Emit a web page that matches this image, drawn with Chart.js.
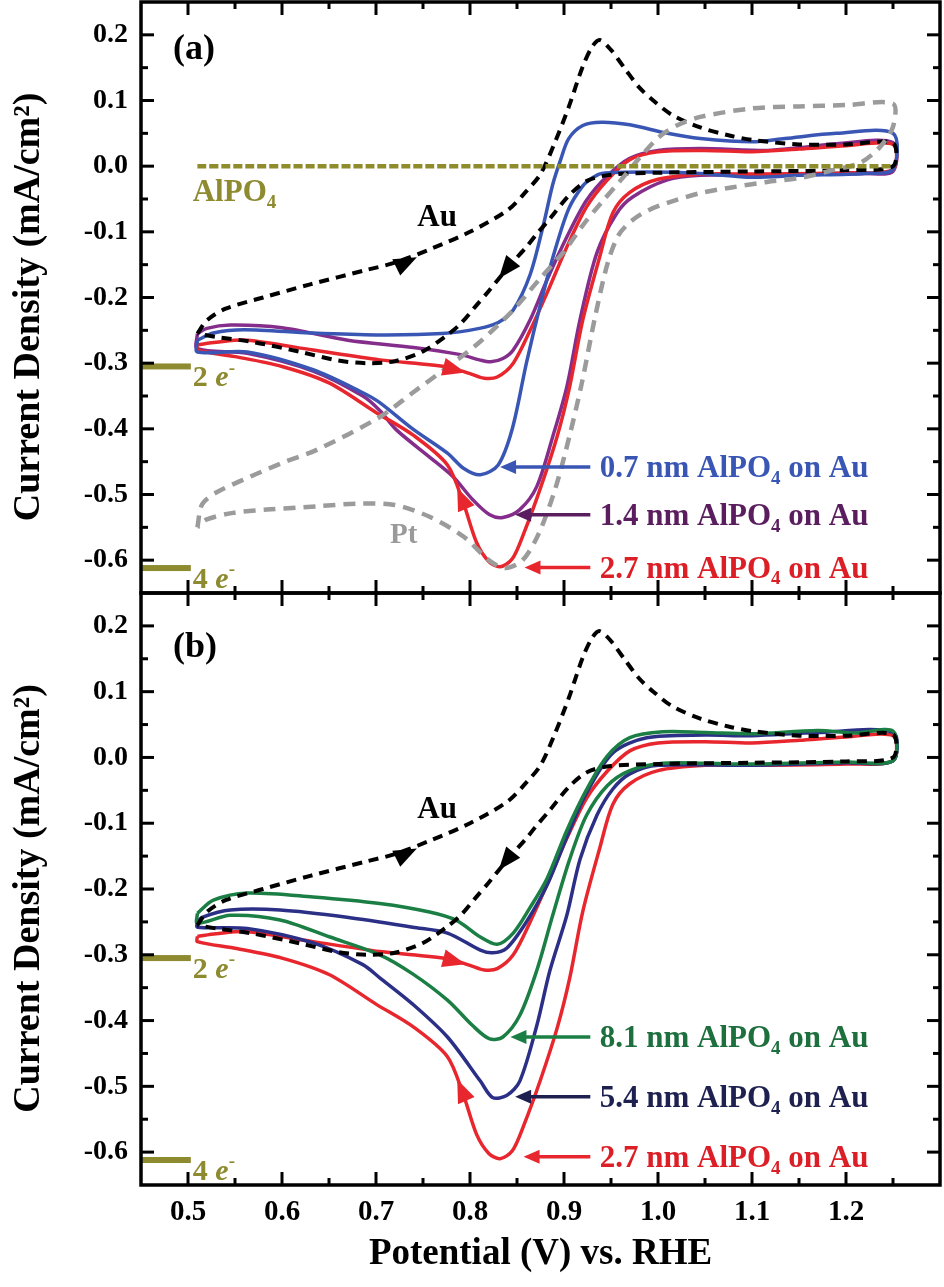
<!DOCTYPE html>
<html><head><meta charset="utf-8">
<script src="https://cdn.jsdelivr.net/npm/chart.js@4.4.1/dist/chart.umd.min.js"></script>
<style>
html,body{margin:0;padding:0;background:#fff;}
#wrap{position:relative;width:944px;height:1287px;overflow:hidden;background:#fff;}
#ca{position:absolute;left:0;top:0;}
#cb{position:absolute;left:0;top:590px;}
</style></head><body>
<div id="wrap"><canvas id="ca" width="944" height="596"></canvas><canvas id="cb" width="944" height="697"></canvas></div>
<script>
// ---------- tick values ----------
const xTicks = [0.5, 0.6, 0.7, 0.8, 0.9, 1.0, 1.1, 1.2];
const yTicks = [-0.6, -0.5, -0.4, -0.3, -0.2, -0.1, 0.0, 0.1, 0.2];
const xRange = [0.45, 1.30];
const yRange = [-0.65, 0.25];

// ---------- electron-transfer reference levels ----------
const eLevels = [-0.305, -0.612];
const eCounts = ['2', '4'];

// ---------- Au (bare, black dashed) ----------
const auX = [0.51,0.52,0.54,0.58,0.63,0.69,0.72,0.76,0.80,0.84,0.86,0.875,0.89,0.905,0.92,0.93,0.938,0.95,0.965,0.98,0.995,1.015,1.045,1.075,1.10,1.15,1.20,1.25,
             1.25,1.20,1.10,1.00,0.95,0.925,0.905,0.885,0.87,0.86,0.84,0.82,0.805,0.79,0.775,0.75,0.72,0.69,0.66,0.62,0.57,0.53,0.51];
const auY = [-0.255,-0.235,-0.217,-0.200,-0.180,-0.158,-0.147,-0.125,-0.100,-0.067,-0.038,-0.012,0.035,0.090,0.152,0.182,0.192,0.177,0.148,0.120,0.100,0.078,0.059,0.047,0.040,0.033,0.033,0.035,
             0.000,-0.006,-0.008,-0.010,-0.013,-0.022,-0.045,-0.080,-0.105,-0.123,-0.155,-0.190,-0.215,-0.240,-0.258,-0.282,-0.297,-0.300,-0.296,-0.283,-0.268,-0.260,-0.255];

// ---------- 0.7 nm AlPO4 on Au ----------
const a07X = [0.51,0.527,0.56,0.63,0.70,0.77,0.81,0.83,0.846,0.864,0.878,0.888,0.896,0.905,0.92,0.94,0.97,1.01,1.045,1.10,1.135,1.19,1.25,
              1.25,1.22,1.15,1.10,1.045,0.99,0.94,0.93,0.92,0.905,0.89,0.875,0.86,0.845,0.83,0.811,0.793,0.776,0.739,0.704,0.686,0.633,0.563,0.51,0.51];
const a07Y = [-0.265,-0.254,-0.249,-0.254,-0.257,-0.255,-0.247,-0.238,-0.219,-0.165,-0.090,-0.028,0.008,0.042,0.062,0.067,0.063,0.050,0.042,0.037,0.042,0.050,0.050,
              -0.005,-0.011,-0.014,-0.017,-0.011,-0.009,-0.011,-0.018,-0.030,-0.065,-0.130,-0.210,-0.300,-0.400,-0.455,-0.470,-0.460,-0.437,-0.400,-0.360,-0.345,-0.310,-0.283,-0.283,-0.265];

// ---------- 1.4 nm AlPO4 on Au ----------
const a14X = [0.51,0.52,0.545,0.60,0.67,0.74,0.79,0.81,0.822,0.835,0.846,0.864,0.882,0.903,0.924,0.946,0.97,1.00,1.045,1.116,1.15,1.19,1.25,
              1.25,1.22,1.10,1.045,1.01,0.973,0.956,0.935,0.917,0.903,0.888,0.871,0.853,0.835,0.821,0.803,0.782,0.757,0.722,0.704,0.686,0.633,0.563,0.51,0.51];
const a14Y = [-0.255,-0.247,-0.242,-0.246,-0.265,-0.276,-0.287,-0.295,-0.298,-0.293,-0.280,-0.234,-0.173,-0.108,-0.052,-0.015,0.012,0.024,0.027,0.024,0.028,0.034,0.036,
              -0.008,-0.011,-0.013,-0.014,-0.021,-0.047,-0.072,-0.132,-0.234,-0.336,-0.412,-0.488,-0.523,-0.535,-0.531,-0.508,-0.473,-0.443,-0.402,-0.372,-0.350,-0.312,-0.285,-0.278,-0.255];

// ---------- 2.7 nm AlPO4 on Au ----------
const a27X = [0.51,0.53,0.563,0.633,0.704,0.776,0.80,0.815,0.829,0.846,0.864,0.882,0.903,0.924,0.946,0.97,1.00,1.05,1.10,1.15,1.20,1.25,
              1.25,1.20,1.10,1.05,1.00,0.97,0.952,0.938,0.92,0.906,0.893,0.875,0.857,0.845,0.832,0.82,0.807,0.793,0.776,0.74,0.70,0.65,0.60,0.55,0.51,0.51];
const a27Y = [-0.272,-0.268,-0.265,-0.280,-0.295,-0.306,-0.316,-0.323,-0.321,-0.300,-0.250,-0.193,-0.123,-0.062,-0.021,0.010,0.022,0.024,0.022,0.026,0.031,0.033,
              -0.005,-0.010,-0.012,-0.012,-0.020,-0.040,-0.071,-0.138,-0.234,-0.336,-0.410,-0.490,-0.560,-0.598,-0.610,-0.602,-0.573,-0.513,-0.455,-0.410,-0.375,-0.330,-0.305,-0.290,-0.280,-0.272];

// ---------- Pt (grey dashed) ----------
const ptX = [0.51,0.515,0.53,0.566,0.60,0.637,0.704,0.739,0.776,0.811,0.846,0.874,0.90,0.92,0.94,0.96,0.98,1.00,1.02,1.045,1.10,1.15,1.20,1.25,
             1.25,1.236,1.215,1.186,1.151,1.116,1.08,1.045,1.01,0.99,0.973,0.958,0.946,0.933,0.919,0.906,0.891,0.873,0.856,0.838,0.821,0.793,0.757,0.72,0.68,0.637,0.584,0.548,0.52,0.51];
const ptY = [-0.550,-0.515,-0.497,-0.473,-0.452,-0.432,-0.382,-0.345,-0.306,-0.267,-0.219,-0.172,-0.130,-0.090,-0.055,-0.022,0.012,0.043,0.062,0.075,0.088,0.091,0.093,0.095,
             0.060,0.029,0.005,-0.006,-0.018,-0.024,-0.032,-0.041,-0.056,-0.067,-0.082,-0.105,-0.150,-0.230,-0.330,-0.410,-0.490,-0.560,-0.600,-0.612,-0.601,-0.564,-0.534,-0.516,-0.514,-0.518,-0.523,-0.528,-0.538,-0.550];

// ---------- AlPO4 alone (olive) ----------
const alX = [0.51, 0.70, 0.90, 1.10, 1.25];
const alY = [0.000, 0.000, 0.000, 0.000, 0.000];

// ---------- 5.4 nm AlPO4 on Au ----------
const a54X = [0.51,0.515,0.545,0.598,0.669,0.739,0.776,0.811,0.824,0.839,0.86,0.882,0.903,0.924,0.952,0.988,1.05,1.10,1.17,1.25,
              1.25,1.20,1.10,1.00,0.97,0.952,0.935,0.917,0.903,0.885,0.871,0.853,0.839,0.824,0.811,0.776,0.739,0.704,0.686,0.633,0.563,0.51,0.51];
const a54Y = [-0.250,-0.243,-0.232,-0.232,-0.243,-0.258,-0.267,-0.293,-0.297,-0.290,-0.250,-0.194,-0.121,-0.054,0.007,0.030,0.034,0.033,0.038,0.038,
              -0.005,-0.008,-0.012,-0.012,-0.025,-0.048,-0.088,-0.155,-0.240,-0.324,-0.408,-0.492,-0.514,-0.517,-0.492,-0.425,-0.375,-0.335,-0.315,-0.282,-0.260,-0.258,-0.250];

// ---------- 8.1 nm AlPO4 on Au ----------
const a81X = [0.51,0.527,0.563,0.633,0.704,0.757,0.786,0.811,0.829,0.846,0.864,0.882,0.903,0.924,0.946,0.97,1.005,1.05,1.10,1.17,1.21,1.25,
              1.25,1.20,1.10,1.05,1.005,0.97,0.946,0.924,0.906,0.888,0.871,0.853,0.835,0.821,0.803,0.776,0.739,0.704,0.651,0.598,0.545,0.51,0.51];
const a81Y = [-0.237,-0.217,-0.206,-0.212,-0.222,-0.235,-0.248,-0.273,-0.284,-0.267,-0.228,-0.184,-0.111,-0.049,0.002,0.030,0.039,0.038,0.036,0.041,0.037,0.040,
              -0.005,-0.007,-0.010,-0.009,-0.009,-0.020,-0.043,-0.088,-0.155,-0.240,-0.324,-0.392,-0.425,-0.428,-0.408,-0.369,-0.329,-0.300,-0.273,-0.247,-0.240,-0.252,-0.237];

// ---------- styling ----------
const FONT = '"Liberation Serif", "Times New Roman", serif';
const OLIVE = '#8d8a2f';
const COL = {au:'#000000', blue:'#3a56b4', purple:'#852d8b', red:'#e8262d', pt:'#9b9b9b', al:'#8f8c2c', green:'#1b7f45', navy:'#2b2f86'};
const TXT = {blue:'#3a56b4', purple:'#5a1d5e', red:'#dc1f26', green:'#1d6f3d', navy:'#1e2150'};

const pts = (xs, ys) => xs.map((v, i) => ({x: v, y: ys[i]}));
const line = (label, xs, ys, color, width, dash) => ({
  label, data: pts(xs, ys), showLine: true, borderColor: color, backgroundColor: color,
  borderWidth: width, borderDash: dash || [], borderJoinStyle: 'round', pointRadius: 0, fill: false, tension: 0.3
});

function drawRich(ctx, segs, x, yMid, size, color) {
  ctx.fillStyle = color; ctx.textBaseline = 'alphabetic'; ctx.textAlign = 'left';
  const base = yMid + size * 0.33;
  let cx = x;
  segs.forEach(s => {
    const fs = (s.sub || s.sup) ? Math.round(size * 0.62) : size;
    ctx.font = (s.it ? 'italic ' : '') + 'bold ' + fs + 'px ' + FONT;
    const dy = s.sub ? size * 0.22 : (s.sup ? -size * 0.42 : 0);
    ctx.fillText(s.t, cx, base + dy);
    cx += ctx.measureText(s.t).width;
  });
}
function head(ctx, tx, ty, ang, len, hw, color) {
  const c = Math.cos(ang), s = Math.sin(ang);
  ctx.fillStyle = color; ctx.beginPath();
  ctx.moveTo(tx, ty);
  ctx.lineTo(tx - len * c + hw * s, ty - len * s - hw * c);
  ctx.lineTo(tx - len * c - hw * s, ty - len * s + hw * c);
  ctx.closePath(); ctx.fill();
}
const alpo = (pre) => [{t: pre + ' nm AlPO'}, {t: '4', sub: true}, {t: ' on Au'}];

function annotPlugin(cfg) {
  return {
    id: 'annot',
    afterDatasetsDraw(chart) {
      const {ctx, scales: {x, y}} = chart;
      const X = v => x.getPixelForValue(v), Y = v => y.getPixelForValue(v);
      ctx.save();
      eLevels.forEach((lv, i) => {
        const py = Y(lv);
        ctx.fillStyle = OLIVE;
        ctx.fillRect(X(xRange[0]), py - 3, X(0.503) - X(xRange[0]), 6);
        drawRich(ctx, [{t: eCounts[i]}, {t: ' '}, {t: 'e', it: true}, {t: '-', sup: true}], X(0.503) + 2, py + 10, 30, OLIVE);
      });
      cfg.texts.forEach(t => drawRich(ctx, t.segs, X(t.x), Y(t.y), t.size, t.color));
      cfg.callouts.forEach(c => {
        const py = Y(c.y), tip = X(c.tip), tail = X(c.tail);
        ctx.strokeStyle = c.color; ctx.lineWidth = 3.5; ctx.setLineDash([]);
        ctx.beginPath(); ctx.moveTo(tail, py); ctx.lineTo(tip + 12, py); ctx.stroke();
        head(ctx, tip, py, Math.PI, 16, 7, c.color);
        drawRich(ctx, alpo(c.txt), X(c.tx), py, 31, c.tcolor);
      });
      cfg.heads.forEach(h => {
        const px = X(h.x), py = Y(h.y);
        const ang = Math.atan2(Y(h.ty) - py, X(h.tx) - px);
        head(ctx, px + 11 * Math.cos(ang), py + 11 * Math.sin(ang), ang, 23, 9, h.color);
      });
      ctx.restore();
    }
  };
}

const framePlugin = {
  id: 'frame',
  afterDraw(chart) {
    const {ctx, chartArea: a, scales: {x, y}} = chart;
    ctx.save();
    ctx.strokeStyle = '#000'; ctx.lineWidth = 3; ctx.setLineDash([]); ctx.lineCap = 'butt';
    const seg = (x1, y1, x2, y2) => { ctx.beginPath(); ctx.moveTo(x1, y1); ctx.lineTo(x2, y2); ctx.stroke(); };
    const xMin = xTicks.map(v => +(v + 0.05).toFixed(2)).filter(v => v < xRange[1]);
    const yMin = yTicks.map(v => +(v + 0.05).toFixed(2)).filter(v => v < yRange[1]);
    const doX = (vals, L) => vals.forEach(v => { const p = x.getPixelForValue(v); seg(p, a.bottom, p, a.bottom - L); seg(p, a.top, p, a.top + L); });
    const doY = (vals, L) => vals.forEach(v => { const p = y.getPixelForValue(v); seg(a.left, p, a.left + L, p); seg(a.right, p, a.right - L, p); });
    doX(xTicks, 13); doX(xMin, 7); doY(yTicks, 13); doY(yMin, 7);
    ctx.lineWidth = 3.5;
    ctx.strokeRect(a.left, a.top, a.right - a.left, a.bottom - a.top);
    ctx.restore();
  }
};

function makeChart(canvas, datasets, showX, pad, annot) {
  return new Chart(canvas, {
    type: 'scatter',
    data: {datasets},
    options: {
      responsive: false, animation: false, devicePixelRatio: 1,
      layout: {padding: pad},
      plugins: {legend: {display: false}, tooltip: {enabled: false}},
      scales: {
        x: {
          type: 'linear', min: xRange[0], max: xRange[1], display: showX,
          afterBuildTicks: s => { s.ticks = xTicks.map(v => ({value: v})); },
          afterFit: s => { s.height = showX ? 102 : 0; s.paddingLeft = 0; s.paddingRight = 0; },
          grid: {display: false, drawTicks: false}, border: {display: false},
          ticks: {color: '#000', font: {family: FONT, size: 29, weight: 'bold'}, padding: 10, maxRotation: 0, autoSkip: false,
                  callback: v => Number(v).toFixed(1)},
          title: {display: true, text: 'Potential (V) vs. RHE', color: '#000',
                  font: {family: FONT, size: 37, weight: 'bold'}, padding: {top: 0, bottom: 10}}
        },
        y: {
          type: 'linear', min: yRange[0], max: yRange[1],
          afterBuildTicks: s => { s.ticks = yTicks.map(v => ({value: v})); },
          afterFit: s => { s.width = 141; s.paddingTop = 0; s.paddingBottom = 0; },
          grid: {display: false, drawTicks: false}, border: {display: false},
          ticks: {color: '#000', font: {family: FONT, size: 28, weight: 'bold'}, padding: 13, autoSkip: false,
                  callback: v => Number(v).toFixed(1)},
          title: {display: true, text: 'Current Density (mA/cm²)\u2002', color: '#000',
                  font: {family: FONT, size: 38, weight: 'bold'}, padding: {top: 6, bottom: 0}}
        }
      }
    },
    plugins: [annotPlugin(annot), framePlugin]
  });
}

const auHeads = [
  {x: 0.733, y: -0.146, tx: 0.76, ty: -0.127, color: '#000'},
  {x: 0.838, y: -0.158, tx: 0.82, ty: -0.19, color: '#000'},
  {x: 0.784, y: -0.310, tx: 0.80, ty: -0.316, color: COL.red},
  {x: 0.791, y: -0.505, tx: 0.776, ty: -0.455, color: COL.red}
];

// Panel (a)
makeChart(document.getElementById('ca'), [
  line('AlPO4', alX, alY, COL.al, 4.5, [9, 3]),
  line('Pt', ptX, ptY, COL.pt, 4.5, [12, 8]),
  line('Au', auX, auY, COL.au, 4, [10, 7]),
  line('0.7 nm AlPO4 on Au', a07X, a07Y, COL.blue, 3.5),
  line('2.7 nm AlPO4 on Au', a27X, a27Y, COL.red, 3.5),
  line('1.4 nm AlPO4 on Au', a14X, a14Y, COL.purple, 3.5)
], false, {top: 2, right: 4, bottom: 3, left: 0}, {
  texts: [
    {segs: [{t: '(a)'}], x: 0.484, y: 0.181, size: 36, color: '#000'},
    {segs: [{t: 'AlPO'}, {t: '4', sub: true}], x: 0.505, y: -0.037, size: 31, color: OLIVE},
    {segs: [{t: 'Au'}], x: 0.744, y: -0.076, size: 31, color: '#000'},
    {segs: [{t: 'Pt'}], x: 0.715, y: -0.560, size: 29, color: '#9a9a9a'}
  ],
  callouts: [
    {txt: '0.7', y: -0.458, tip: 0.832, tail: 0.928, tx: 0.938, color: COL.blue, tcolor: TXT.blue},
    {txt: '1.4', y: -0.531, tip: 0.848, tail: 0.928, tx: 0.938, color: TXT.purple, tcolor: TXT.purple},
    {txt: '2.7', y: -0.611, tip: 0.858, tail: 0.928, tx: 0.938, color: COL.red, tcolor: TXT.red}
  ],
  heads: auHeads
});

// Panel (b)
makeChart(document.getElementById('cb'), [
  line('Au', auX, auY, COL.au, 4, [10, 7]),
  line('8.1 nm AlPO4 on Au', a81X, a81Y, COL.green, 3.5),
  line('5.4 nm AlPO4 on Au', a54X, a54Y, COL.navy, 3.5),
  line('2.7 nm AlPO4 on Au', a27X, a27Y, COL.red, 3.5)
], true, {top: 3, right: 4, bottom: 0, left: 0}, {
  texts: [
    {segs: [{t: '(b)'}], x: 0.484, y: 0.171, size: 36, color: '#000'},
    {segs: [{t: 'Au'}], x: 0.744, y: -0.076, size: 31, color: '#000'}
  ],
  callouts: [
    {txt: '8.1', y: -0.425, tip: 0.843, tail: 0.928, tx: 0.938, color: COL.green, tcolor: TXT.green},
    {txt: '5.4', y: -0.516, tip: 0.848, tail: 0.928, tx: 0.938, color: TXT.navy, tcolor: TXT.navy},
    {txt: '2.7', y: -0.607, tip: 0.857, tail: 0.928, tx: 0.938, color: COL.red, tcolor: TXT.red}
  ],
  heads: auHeads
});
</script></body></html>
